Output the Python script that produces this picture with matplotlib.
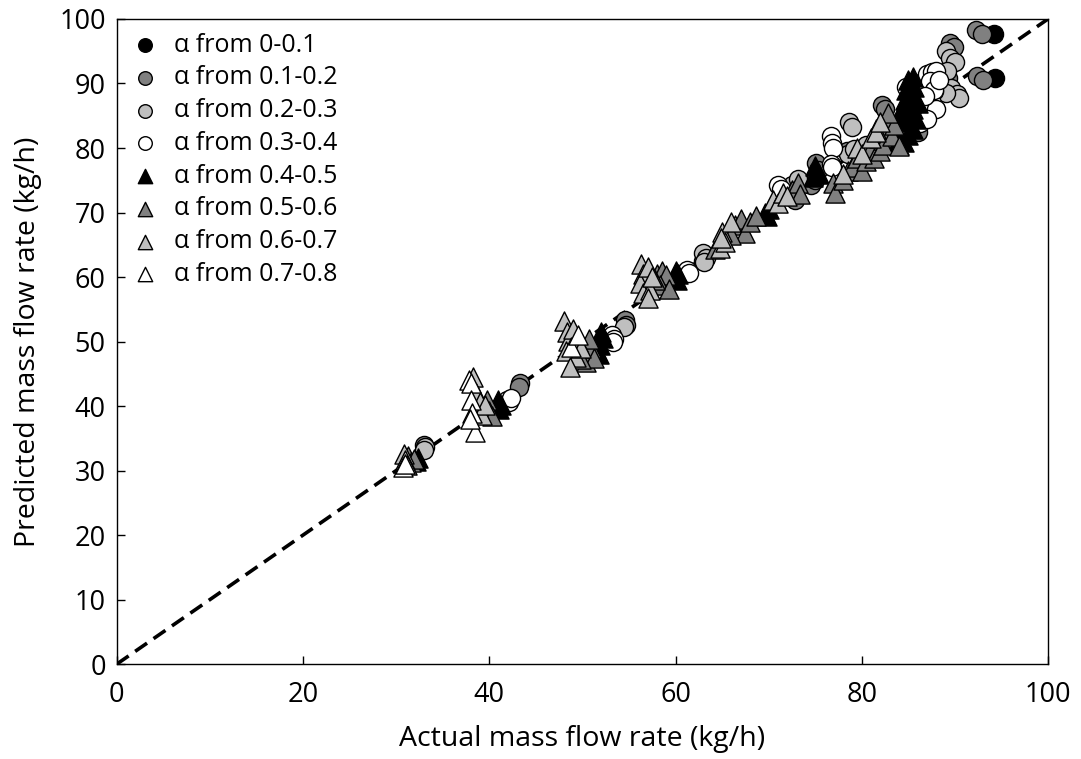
import matplotlib
matplotlib.use("Agg")
import matplotlib.pyplot as plt
import numpy as np

plt.rcParams['font.family'] = ['Open Sans', 'DejaVu Sans']

labels = ["α from 0-0.1", "α from 0.1-0.2", "α from 0.2-0.3", "α from 0.3-0.4",
          "α from 0.4-0.5", "α from 0.5-0.6", "α from 0.6-0.7", "α from 0.7-0.8"]

# series 0: 0-0.1 (black circles)
x0 = [94.2, 94.3]
y0 = [97.6, 90.9]
# series 1: 0.1-0.2 (dark gray circles)
x1 = [33.0, 43.3, 43.2, 54.6, 54.7, 62.9, 72.2, 72.8, 74.5, 75.0, 75.1, 75.3, 78.4,
      82.2, 82.5, 84.5, 86.0, 89.5, 89.9, 89.3, 92.3, 92.9, 92.4, 93.0, 88.8, 86.3]
y1 = [33.9, 43.6, 43.0, 53.3, 52.6, 62.5, 72.6, 72.0, 74.2, 75.0, 77.7, 76.6, 79.5,
      86.6, 86.0, 84.5, 82.5, 96.3, 95.6, 90.8, 98.3, 97.6, 91.1, 90.6, 89.5, 90.0]
# series 2: 0.2-0.3 (light gray circles)
x2 = [33.1, 33.0, 54.5, 63.0, 63.3, 63.1, 72.5, 73.2, 78.6, 79.0, 78.5, 79.2, 80.5,
      86.0, 87.2, 88.5, 89.0, 89.5, 90.0, 89.2, 89.6, 90.2, 90.4, 89.0, 87.8, 87.5,
      86.5, 85.8]
y2 = [33.6, 33.2, 52.2, 63.8, 63.0, 62.3, 74.2, 75.2, 84.0, 83.3, 79.0, 79.8, 80.4,
      87.0, 91.2, 91.5, 95.0, 94.0, 93.4, 92.0, 89.3, 88.3, 87.8, 88.6, 88.9, 86.5,
      84.5, 85.5]
# series 3: 0.3-0.4 (white circles)
x3 = [41.9, 42.1, 42.3, 53.2, 53.4, 53.3, 61.2, 61.4, 71.0, 71.3, 76.7, 76.8, 76.9,
      76.7, 76.8, 84.8, 85.5, 86.0, 86.5, 87.0, 87.5, 88.0, 87.3, 86.3, 87.0, 87.5,
      88.0, 85.5, 86.2, 87.0, 87.8, 86.8, 88.3]
y3 = [41.0, 40.6, 41.3, 51.0, 50.4, 49.9, 61.1, 60.6, 74.3, 73.7, 81.9, 80.7, 80.0,
      77.5, 77.0, 89.5, 88.0, 89.0, 90.0, 91.5, 91.8, 92.0, 90.4, 86.5, 85.8, 87.0,
      86.0, 84.0, 83.8, 84.5, 89.0, 88.0, 90.5]
# series 4: 0.4-0.5 (black triangles)
x4 = [32.1, 32.3, 41.0, 41.3, 40.9, 51.6, 51.9, 52.2, 52.0, 51.8, 59.8, 60.2, 60.0,
      60.3, 69.6, 70.0, 69.8, 75.0, 75.4, 74.8, 83.0, 83.5, 84.0, 84.3, 84.6, 84.8,
      85.0, 85.5, 85.2, 85.5, 85.8, 85.5, 85.0, 84.5, 84.0, 86.0, 84.3, 83.8, 85.6, 84.9]
y4 = [31.5, 32.0, 39.5, 40.2, 41.0, 48.5, 49.5, 50.5, 51.5, 48.0, 60.0, 59.5, 61.0,
      60.5, 70.0, 70.6, 69.5, 77.2, 76.0, 75.5, 82.0, 83.0, 84.5, 86.0, 87.5, 89.0,
      90.5, 91.0, 88.5, 86.0, 84.5, 83.0, 82.0, 81.0, 80.5, 87.0, 85.0, 80.8, 89.5, 84.0]
# series 5: 0.5-0.6 (dark gray triangles)
x5 = [31.3, 31.6, 31.9, 39.8, 40.0, 40.3, 50.0, 50.4, 50.9, 51.2, 50.7, 49.8, 58.0,
      58.5, 59.0, 58.3, 59.3, 57.8, 64.2, 66.4, 67.0, 67.5, 68.0, 68.6, 66.0, 72.5,
      73.1, 73.4, 76.9, 77.1, 78.0, 78.5, 79.0, 79.5, 80.0, 80.5, 81.0, 81.3, 81.8,
      82.0, 82.5, 82.3, 83.0, 83.2, 83.5, 82.8, 84.0, 81.5]
y5 = [32.3, 31.3, 31.8, 41.0, 39.2, 38.4, 48.4, 46.8, 49.0, 47.4, 50.4, 47.3, 60.5,
      61.0, 60.3, 58.8, 58.1, 59.5, 64.3, 68.0, 69.0, 66.8, 68.5, 69.5, 66.5, 73.5,
      74.6, 72.8, 74.5, 73.0, 75.0, 76.5, 77.0, 78.5, 76.5, 78.0, 80.0, 78.5, 81.5,
      79.5, 83.0, 80.5, 84.5, 81.8, 83.5, 85.5, 80.3, 83.0]
# series 6: 0.6-0.7 (light gray triangles)
x6 = [30.8, 31.0, 31.2, 38.3, 38.6, 39.0, 39.2, 39.5, 48.0, 48.3, 48.5, 48.2, 49.0,
      49.5, 49.3, 48.7, 49.8, 56.3, 56.5, 56.2, 56.5, 57.0, 57.3, 57.5, 57.0, 64.8,
      65.0, 65.3, 66.0, 64.9, 70.5, 71.0, 71.5, 72.0, 78.0, 79.5, 80.0, 81.0, 81.5, 82.0]
y6 = [32.6, 31.6, 30.9, 44.5, 42.0, 40.6, 38.6, 40.1, 53.2, 51.5, 50.1, 48.6, 52.0,
      50.0, 47.6, 46.1, 49.0, 62.0, 60.5, 59.0, 57.5, 61.5, 58.0, 60.0, 56.8, 64.5,
      67.0, 65.5, 68.5, 66.0, 72.0, 71.5, 73.0, 72.5, 76.0, 80.0, 79.0, 81.5, 82.5, 84.0]
# series 7: 0.7-0.8 (white triangles)
x7 = [30.7, 30.9, 37.8, 38.0, 38.0, 38.2, 38.5, 37.9, 48.8, 49.5]
y7 = [30.5, 31.0, 44.0, 43.5, 41.0, 39.0, 36.0, 38.0, 49.2, 51.0]

xs = [x0, x1, x2, x3, x4, x5, x6, x7]
ys = [y0, y1, y2, y3, y4, y5, y6, y7]
markers = ['o', 'o', 'o', 'o', '^', '^', '^', '^']
colors = ['#000000', '#808080', '#BFBFBF', '#FFFFFF',
          '#000000', '#808080', '#BFBFBF', '#FFFFFF']

fig = plt.figure(figsize=(10.81, 7.59), dpi=100)
ax = fig.add_axes([0.108, 0.125, 0.8615, 0.850])

ax.plot([0, 100], [0, 100], linestyle=(0, (4.0, 2.2)), color='black', lw=2.6, zorder=1)

for x, y, m, c, lab in zip(xs, ys, markers, colors, labels):
    ax.scatter(x, y, marker=m, s=170 if m == 'o' else 190, facecolor=c,
               edgecolor='black', linewidth=1.0, label=lab, zorder=3)

ax.set_xlim(0, 100)
ax.set_ylim(0, 100)
ax.set_xticks(np.arange(0, 101, 20))
ax.set_yticks(np.arange(0, 101, 10))
ax.tick_params(direction='in', length=6, width=1, labelsize=19.5)
ax.tick_params(axis='x', pad=12)
ax.tick_params(axis='y', pad=8)
for s in ax.spines.values():
    s.set_linewidth(1.0)
ax.set_xlabel("Actual mass flow rate (kg/h)", fontsize=20.5, labelpad=12)
ax.set_ylabel("Predicted mass flow rate (kg/h)", fontsize=20.5, labelpad=12)

leg = ax.legend(loc='upper left', frameon=False, fontsize=18, markerscale=0.75,
                handletextpad=0.55, labelspacing=0.31, borderaxespad=0.1,
                handlelength=1.2, borderpad=0.45)

fig.savefig("out.png", dpi=100)
